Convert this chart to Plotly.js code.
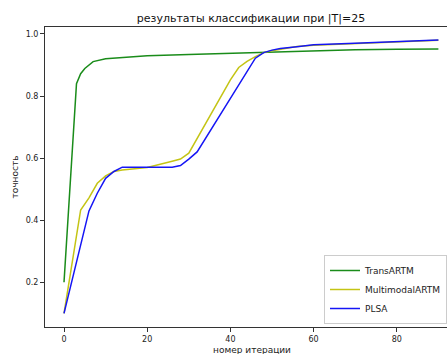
<!DOCTYPE html>
<html>
<head>
<meta charset="utf-8">
<script src="https://cdn.plot.ly/plotly-3.0.1.min.js"></script>
<style>html,body{margin:0;padding:0;background:#fff;overflow:hidden;}</style>
</head>
<body>
<div id="chart" style="width:447px;height:354px;"></div>
<script>
// Data
var transX = [0, 3, 4, 5, 7, 10, 15, 20, 30, 40, 50, 60, 70, 80, 90];
var transY = [0.20, 0.84, 0.872, 0.889, 0.911, 0.920, 0.925, 0.930, 0.934, 0.938, 0.943, 0.947, 0.949, 0.951, 0.952];

var multiX = [0, 4, 6, 8, 10, 12, 14, 20, 26, 28, 30, 40, 42, 44, 46, 48, 50, 52, 56, 60, 70, 80, 90];
var multiY = [0.10, 0.433, 0.472, 0.519, 0.543, 0.557, 0.562, 0.570, 0.590, 0.597, 0.616, 0.852, 0.892, 0.912, 0.927, 0.940, 0.946, 0.950, 0.960, 0.964, 0.970, 0.975, 0.980];

var plsaX = [0, 6, 8, 10, 12, 14, 26, 28, 30, 32, 46, 48, 50, 52, 56, 60, 70, 80, 90];
var plsaY = [0.10, 0.430, 0.487, 0.535, 0.557, 0.571, 0.571, 0.576, 0.597, 0.620, 0.922, 0.940, 0.948, 0.953, 0.959, 0.965, 0.970, 0.975, 0.981];

var seriesNames = ['TransARTM', 'MultimodalARTM', 'PLSA'];
var yTicks = [0.2, 0.4, 0.6, 0.8, 1.0];
var xTicks = [0, 20, 40, 60, 80];

var titleText = 'результаты классификации при |T|=25';
var xTitle = 'номер итерации';
var yTitle = 'точность';

var traces = [
  {x: transX, y: transY, name: seriesNames[0], mode: 'lines', line: {color: '#1a8c1a', width: 1.5}},
  {x: multiX, y: multiY, name: seriesNames[1], mode: 'lines', line: {color: '#c4c414', width: 1.5}},
  {x: plsaX, y: plsaY, name: seriesNames[2], mode: 'lines', line: {color: '#1515f5', width: 1.5}}
];

var fontFam = 'DejaVu Sans, sans-serif';

var layout = {
  width: 447, height: 354,
  margin: {l: 45, r: 0, t: 27, b: 27, autoexpand: false},
  paper_bgcolor: '#fff', plot_bgcolor: '#fff',
  font: {family: fontFam, color: '#222', size: 9},
  title: {text: titleText, font: {family: fontFam, size: 11, color: '#111'},
          xref: 'container', x: 0.5615, xanchor: 'center', yref: 'container', y: 0.949, yanchor: 'middle'},
  xaxis: {
    range: [-4.57, 92.07], tickvals: xTicks, ticktext: xTicks.map(String),
    showgrid: false, zeroline: false, showline: true, linecolor: '#333', linewidth: 1, mirror: true,
    ticks: 'outside', ticklen: 4, tickcolor: '#333', tickwidth: 1,
    tickfont: {family: fontFam, size: 8, color: '#222'}
  },
  yaxis: {
    range: [0.056, 1.0225], tickvals: yTicks, ticktext: yTicks.map(function(v){return v.toFixed(1);}),
    showgrid: false, zeroline: false, showline: true, linecolor: '#333', linewidth: 1, mirror: false,
    ticks: 'outside', ticklen: 4, tickcolor: '#333', tickwidth: 1,
    tickfont: {family: fontFam, size: 8, color: '#222'},
    title: {text: yTitle, font: {family: fontFam, size: 9, color: '#222'}, standoff: 5}
  },
  annotations: [
    {text: xTitle, xref: 'paper', yref: 'paper', x: (251.5 - 45) / 402, y: -(350 - 327) / 300,
     xanchor: 'center', yanchor: 'middle', showarrow: false, font: {family: fontFam, size: 9, color: '#222'}}
  ],
  showlegend: true,
  legend: {
    x: 1, xanchor: 'right', y: (327 - 324) / 300, yanchor: 'bottom',
    itemwidth: 30,
    bgcolor: '#fff', bordercolor: '#ccc', borderwidth: 1,
    font: {family: fontFam, size: 9, color: '#222'}
  }
};

Plotly.newPlot('chart', traces, layout, {displayModeBar: false, staticPlot: true});
</script>
</body>
</html>
